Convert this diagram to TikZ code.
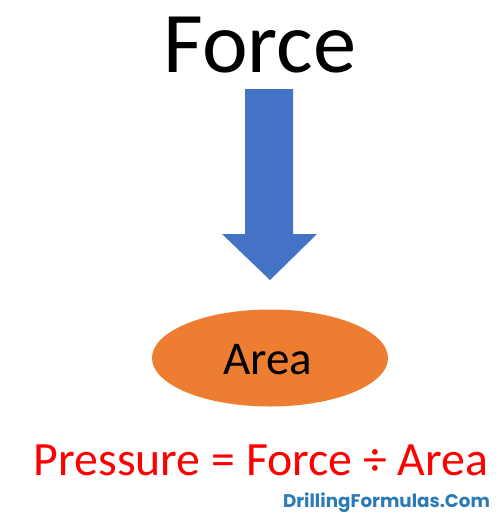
\documentclass[tikz,border=0pt]{standalone}
\usepackage{fontspec}
\setmainfont{Carlito}
\newfontfamily\logofont{Poppins}
\definecolor{arrowblue}{HTML}{4472C4}
\definecolor{areaorange}{HTML}{ED7D31}
\definecolor{eqred}{HTML}{FF0000}
\definecolor{logoblue}{HTML}{2B7AB5}
\tikzset{
  bigtext/.style={inner sep=0pt, anchor=base, font=\fontsize{86.5}{86.5}\selectfont},
  eqtext/.style={inner sep=0pt, anchor=base, text=eqred, font=\fontsize{47.8}{47.8}\selectfont},
  areafill/.style={ellipse, fill=areaorange, minimum width=236pt, minimum height=97pt, inner sep=0pt, font=\fontsize{47}{47}\selectfont},
  logotext/.style={inner sep=0pt, anchor=base, text=logoblue, font=\logofont\bfseries\fontsize{18.3}{18.3}\selectfont}
}
\usetikzlibrary{shapes.geometric}
\begin{document}
\begin{tikzpicture}[x=1pt,y=-1pt]
\useasboundingbox (0,0) rectangle (503,525);
\node[bigtext] (force) at (260,72) {Force};
\fill[arrowblue] (245,89) -- (293,89) -- (293,234) -- (317,234) -- (270,280) -- (222,234) -- (245,234) -- cycle;
\node[areafill] (area) at (270,358) {};
\node[inner sep=0pt, anchor=base, font=\fontsize{47}{47}\selectfont] (arealabel) at (268,374) {Area};
\node[eqtext] (eq) at (261,475) {Pressure = Force ÷ Area};
\node[logotext] (logo) at (386.5,507) {DrillingFormulas.Com};
\end{tikzpicture}
\end{document}
